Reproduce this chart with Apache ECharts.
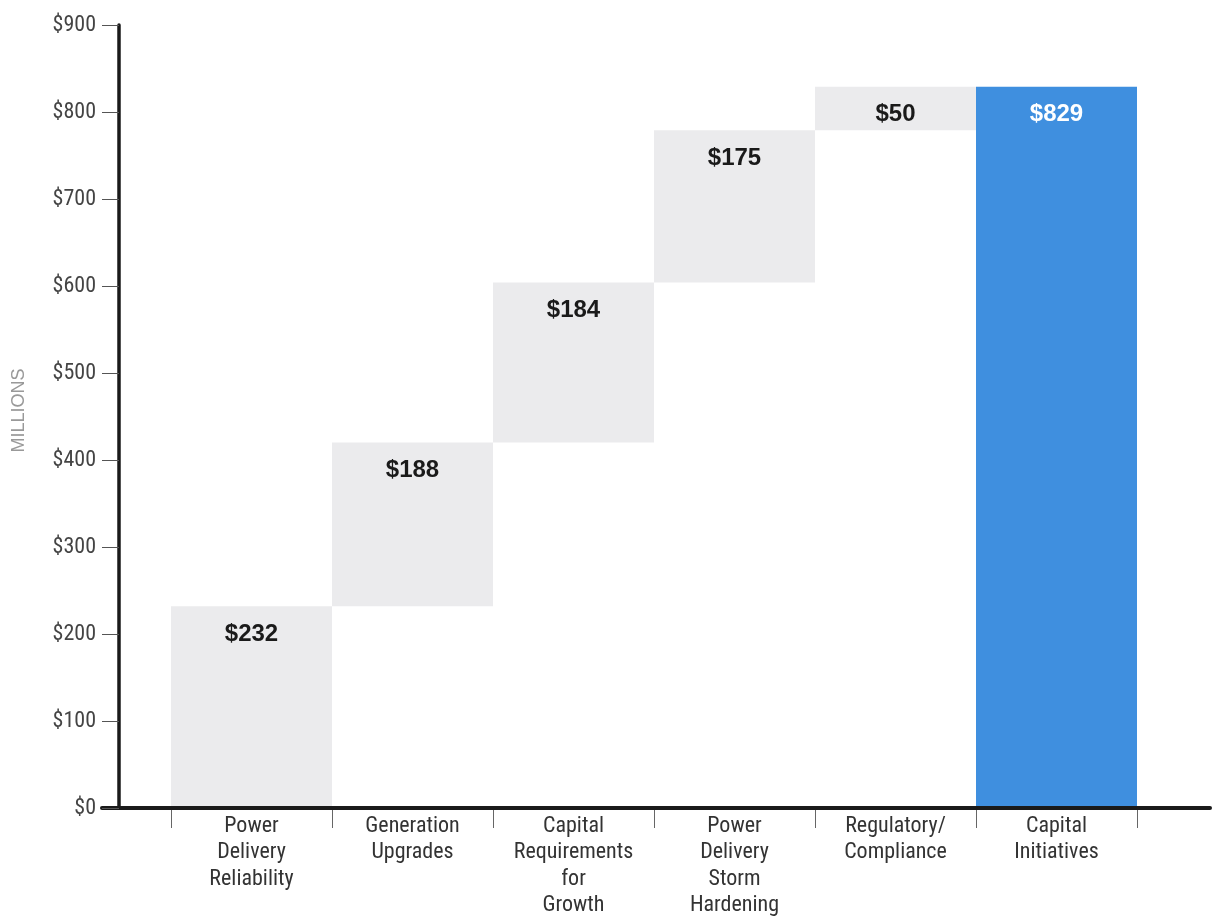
<!DOCTYPE html>
<html>
<head>
<meta charset="utf-8">
<script src="https://cdn.jsdelivr.net/npm/echarts@6/dist/echarts.min.js"></script>
<style>
html,body{margin:0;padding:0;background:#fff;}
#chart{width:1217px;height:919px;}
</style>
</head>
<body>
<div id="chart"></div>
<script>
// ---- data ----
const categories = [
  'Power\nDelivery\nReliability',
  'Generation\nUpgrades',
  'Capital\nRequirements\nfor\nGrowth',
  'Power\nDelivery\nStorm\nHardening',
  'Regulatory/\nCompliance',
  'Capital\nInitiatives'
];
const increments = [232, 188, 184, 175, 50];
const totalValue = 829;
const yTicks = [0, 100, 200, 300, 400, 500, 600, 700, 800, 900];

// ---- derived for waterfall ----
const baseVals = [];
let run = 0;
increments.forEach(v => { baseVals.push(run); run += v; });
baseVals.push(0);
const barVals = increments.concat([totalValue]);

const GRAY = '#ebebed';
const BLUE = '#3f8fdf';
const FONT = "'Roboto Condensed','Liberation Sans Narrow','DejaVu Sans Condensed','Liberation Sans',Arial,sans-serif";
const BOLDFONT = "'Liberation Sans',Arial,Helvetica,sans-serif";

const gTop = 25, gBottom = 919 - 808;
const chart = echarts.init(document.getElementById('chart'), null, {renderer: 'canvas'});

chart.setOption({
  animation: false,
  backgroundColor: '#ffffff',
  grid: [
    {left: 102, right: 7, top: gTop, bottom: gBottom, outerBoundsMode: 'none', containLabel: false},
    {left: 119, right: 7, top: gTop, bottom: gBottom, outerBoundsMode: 'none', containLabel: false},
    {left: 171, right: 80, top: gTop, bottom: gBottom, outerBoundsMode: 'none', containLabel: false}
  ],
  xAxis: [
    {gridIndex: 0, type: 'value', min: 0, max: 1, z: 10,
     axisLine: {show: true, lineStyle: {color: '#1a1a1a', width: 4}},
     axisTick: {show: false}, axisLabel: {show: false}, splitLine: {show: false}},
    {gridIndex: 1, type: 'value', show: false},
    {gridIndex: 2, type: 'category', data: categories, boundaryGap: true,
     axisLine: {show: false},
     axisTick: {show: true, length: 20, lineStyle: {color: '#666', width: 1}},
     axisLabel: {margin: 5, color: '#333', fontSize: 22, lineHeight: 26.5, fontFamily: FONT, interval: 0}}
  ],
  yAxis: [
    {gridIndex: 0, type: 'value', min: 0, max: 900, show: false},
    {gridIndex: 1, type: 'value', min: 0, max: 900, interval: 100, z: 10,
     name: 'MILLIONS', nameLocation: 'middle', nameGap: 91,
     nameTextStyle: {color: '#999', fontSize: 18, fontFamily: BOLDFONT, padding: [0, 0, 0, 12]},
     axisLine: {show: true, lineStyle: {color: '#1a1a1a', width: 3.5}},
     axisTick: {show: true, length: 17, lineStyle: {color: '#555', width: 1}},
     axisLabel: {margin: 23, color: '#444', fontSize: 22, fontFamily: FONT,
       formatter: v => '$' + v},
     splitLine: {show: false}},
    {gridIndex: 2, type: 'value', min: 0, max: 900, show: false}
  ],
  series: [
    {type: 'bar', xAxisIndex: 2, yAxisIndex: 2, stack: 'w', data: baseVals,
     barCategoryGap: '0%', itemStyle: {color: 'rgba(0,0,0,0)'}, silent: true},
    {type: 'bar', xAxisIndex: 2, yAxisIndex: 2, stack: 'w', barCategoryGap: '0%',
     data: barVals.map((v, i) => ({
       value: v,
       itemStyle: {color: i === barVals.length - 1 ? BLUE : GRAY},
       label: {color: i === barVals.length - 1 ? '#ffffff' : '#1a1a1a'}
     })),
     label: {show: true, position: 'insideTop', distance: 16,
       fontSize: 24, fontWeight: 'bold', fontFamily: BOLDFONT,
       formatter: p => '$' + p.value}}
  ]
});
</script>
</body>
</html>
